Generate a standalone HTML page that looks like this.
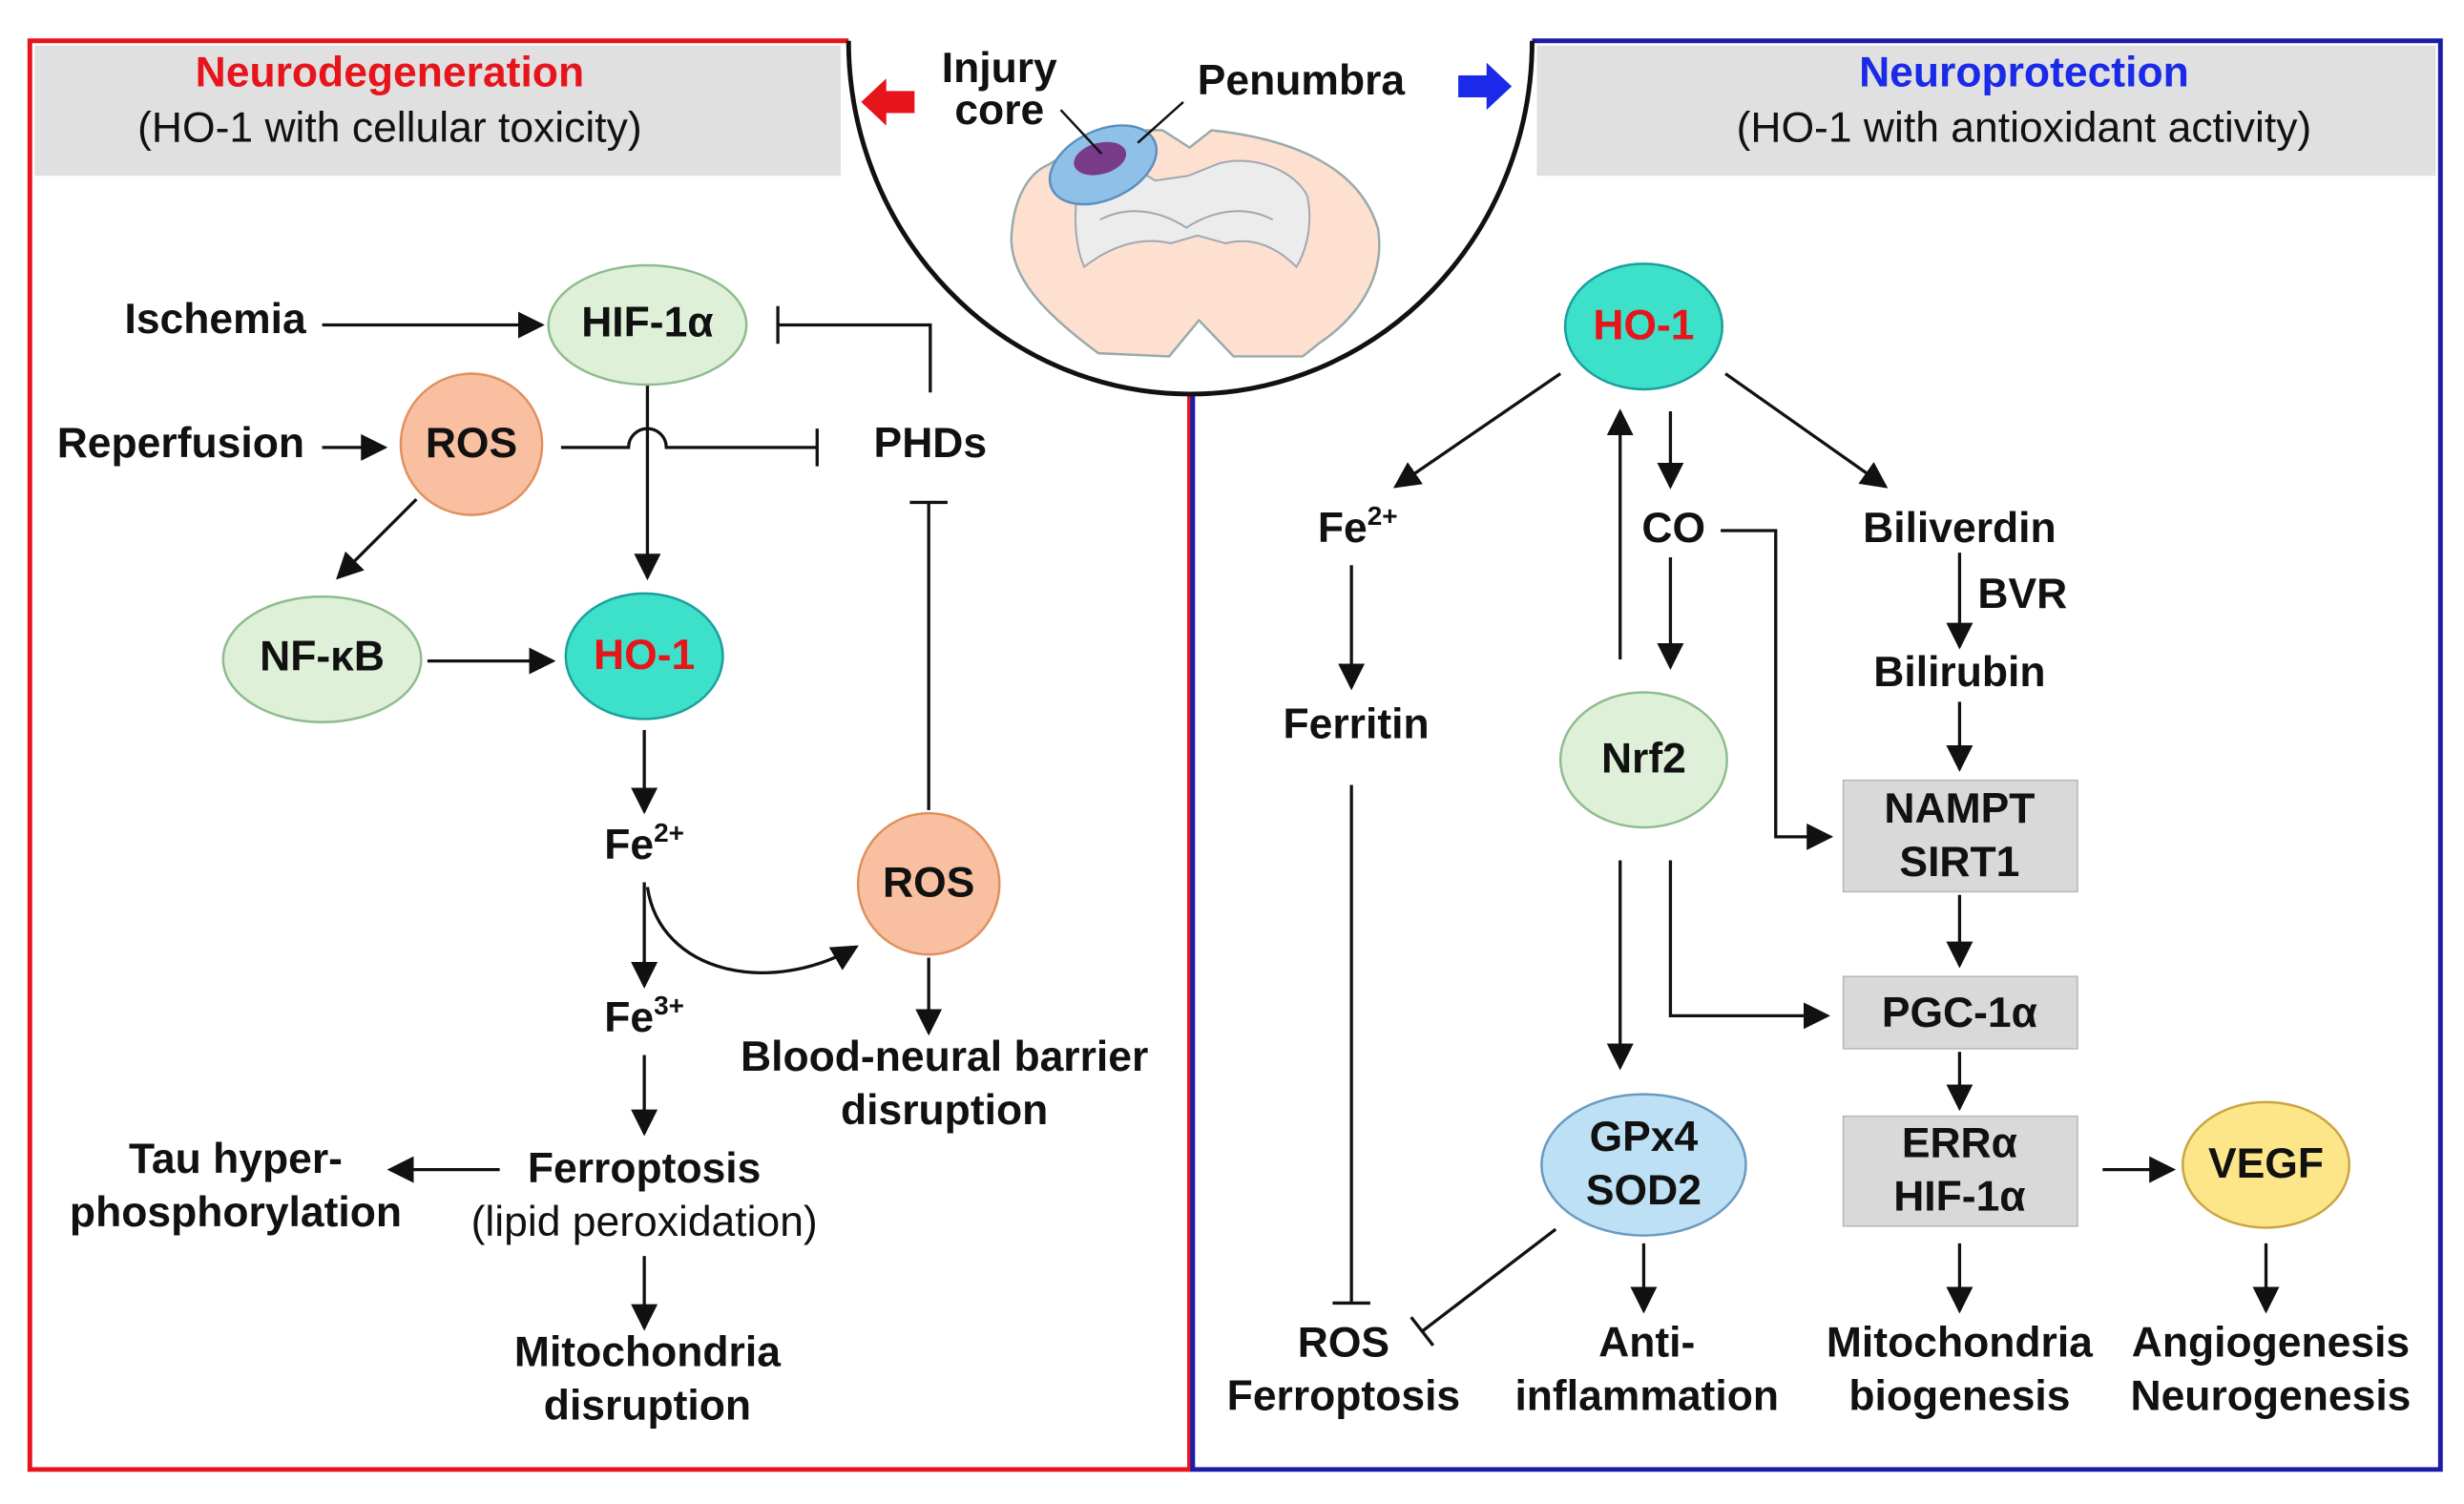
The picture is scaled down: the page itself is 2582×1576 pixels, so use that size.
<!DOCTYPE html>
<html><head><meta charset="utf-8"><style>
html,body{margin:0;padding:0;background:#fff}
svg{display:block}
text{font-family:"Liberation Sans",Arial,sans-serif;font-weight:bold;font-size:27px;text-anchor:middle;dominant-baseline:middle;fill:#111}
.n{font-weight:normal}
</style></head><body>
<svg width="2582" height="1576" viewBox="0 0 1568 958" preserveAspectRatio="none" xmlns="http://www.w3.org/2000/svg">
<defs>
<marker id="a2" viewBox="0 0 10 10" markerWidth="17" markerHeight="17" refX="9" refY="5" orient="auto" markerUnits="userSpaceOnUse"><path d="M0,0 L10,5 L0,10 z" fill="#111"/></marker>
</defs>
<!-- frames -->
<path d="M540,26 L19,26 L19,936 L757,936 L757,250" fill="none" stroke="#e8141c" stroke-width="3"/>
<path d="M975,26 L1553,26 L1553,936 L759,936 L759,250" fill="none" stroke="#1c1ca8" stroke-width="3"/>
<path d="M540,26 A217.5,225 0 0 0 975,26" fill="none" stroke="#111" stroke-width="3"/>
<rect x="22" y="29" width="513" height="83" fill="#e0e0e0"/>
<rect x="978" y="29" width="572" height="83" fill="#e0e0e0"/>
<text x="248" y="48" style="fill:#e8141c">Neurodegeneration</text>
<text x="248" y="83" class="n">(HO-1 with cellular toxicity)</text>
<text x="1288" y="48" style="fill:#1a2ae8">Neuroprotection</text>
<text x="1288" y="83" class="n">(HO-1 with antioxidant activity)</text>
<path d="M548,65 L564,50 L564,58 L582,58 L582,72 L564,72 L564,80 z" fill="#e8141c"/>
<path d="M962,55 L946,40 L946,48 L928,48 L928,62 L946,62 L946,70 z" fill="#1a2ae8"/>
<!-- brain -->
<path d="M757,94 L771,83 C820,88 865,105 877,146 C882,180 860,205 839,219 L829,227 L785,227 L763,204 L744,227 L699,225 C665,200 640,175 644,146 C646,125 655,110 667,105 C690,90 715,82 740,83 z" fill="#fde0d0" stroke="#9aa" stroke-width="1.5"/>
<path d="M690,110 C705,100 720,105 735,115 L756,112 L776,104 C800,98 825,110 832,125 C836,145 830,162 825,170 C815,160 800,150 780,155 L762,150 L745,155 C725,150 705,158 690,170 C683,155 682,125 690,110 z" fill="#ececec" stroke="#a0a8b0" stroke-width="1.2"/>
<path d="M700,140 C715,132 735,132 755,145 C775,132 795,132 810,140" fill="none" stroke="#a0a8b0" stroke-width="1.2"/>
<ellipse cx="702" cy="105" rx="36" ry="22" transform="rotate(-25 702 105)" fill="#8fc0e8" stroke="#5a8fc0" stroke-width="1.5"/>
<ellipse cx="700" cy="101" rx="17" ry="10" transform="rotate(-15 700 101)" fill="#7a3a8a"/>
<text x="636" y="45">Injury</text><text x="636" y="72">core</text>
<text x="828" y="53">Penumbra</text>
<line x1="675" y1="70" x2="701" y2="98" stroke="#111" stroke-width="1.5"/>
<line x1="753" y1="65" x2="724" y2="91" stroke="#111" stroke-width="1.5"/>
<g stroke="#111" stroke-width="2" fill="none">
<!-- left -->
<line x1="205" y1="207" x2="345" y2="207" marker-end="url(#a2)"/>
<path d="M592,250 L592,207 L495,207 M495,195 L495,219"/>
<line x1="205" y1="285" x2="245" y2="285" marker-end="url(#a2)"/>
<path d="M357,285 L400,285 A12,12 0 0 1 424,285 L520,285 M520,273 L520,297"/>
<line x1="412" y1="245" x2="412" y2="368" marker-end="url(#a2)"/>
<line x1="265" y1="318" x2="215" y2="368" marker-end="url(#a2)"/>
<line x1="272" y1="421" x2="352" y2="421" marker-end="url(#a2)"/>
<line x1="410" y1="465" x2="410" y2="517" marker-end="url(#a2)"/>
<line x1="410" y1="562" x2="410" y2="628" marker-end="url(#a2)"/>
<path d="M412,565 C420,620 490,635 545,603" marker-end="url(#a2)"/>
<path d="M591,516 L591,320 M579,320 L603,320"/>
<line x1="591" y1="610" x2="591" y2="658" marker-end="url(#a2)"/>
<line x1="410" y1="672" x2="410" y2="722" marker-end="url(#a2)"/>
<line x1="318" y1="745" x2="248" y2="745" marker-end="url(#a2)"/>
<line x1="410" y1="800" x2="410" y2="846" marker-end="url(#a2)"/>
<!-- right -->
<line x1="993" y1="238" x2="888" y2="310" marker-end="url(#a2)"/>
<line x1="860" y1="360" x2="860" y2="438" marker-end="url(#a2)"/>
<path d="M860,500 L860,830 M848,830 L872,830"/>
<line x1="1031" y1="420" x2="1031" y2="262" marker-end="url(#a2)"/>
<line x1="1063" y1="262" x2="1063" y2="310" marker-end="url(#a2)"/>
<line x1="1063" y1="355" x2="1063" y2="425" marker-end="url(#a2)"/>
<line x1="1098" y1="238" x2="1200" y2="310" marker-end="url(#a2)"/>
<line x1="1247" y1="352" x2="1247" y2="412" marker-end="url(#a2)"/>
<line x1="1247" y1="447" x2="1247" y2="490" marker-end="url(#a2)"/>
<path d="M1095,338 L1130,338 L1130,533 L1165,533" marker-end="url(#a2)"/>
<line x1="1247" y1="570" x2="1247" y2="615" marker-end="url(#a2)"/>
<path d="M1063,548 L1063,647 L1163,647" marker-end="url(#a2)"/>
<line x1="1247" y1="670" x2="1247" y2="706" marker-end="url(#a2)"/>
<line x1="1338" y1="745" x2="1383" y2="745" marker-end="url(#a2)"/>
<line x1="1442" y1="792" x2="1442" y2="835" marker-end="url(#a2)"/>
<line x1="1247" y1="792" x2="1247" y2="835" marker-end="url(#a2)"/>
<line x1="1031" y1="548" x2="1031" y2="680" marker-end="url(#a2)"/>
<path d="M990,783 L905,848 M898,839 L912,857"/>
<line x1="1046" y1="792" x2="1046" y2="835" marker-end="url(#a2)"/>
</g>
<!-- nodes -->
<ellipse cx="412" cy="207" rx="63" ry="38" fill="#dff0d8" stroke="#8fbc8f" stroke-width="1.5"/>
<circle cx="300" cy="283" r="45" fill="#f8c0a0" stroke="#e0905e" stroke-width="1.5"/>
<ellipse cx="205" cy="420" rx="63" ry="40" fill="#dff0d8" stroke="#8fbc8f" stroke-width="1.5"/>
<ellipse cx="410" cy="418" rx="50" ry="40" fill="#3de0c8" stroke="#1a9f9f" stroke-width="1.5"/>
<circle cx="591" cy="563" r="45" fill="#f8c0a0" stroke="#e0905e" stroke-width="1.5"/>
<ellipse cx="1046" cy="208" rx="50" ry="40" fill="#3de0c8" stroke="#1a9f9f" stroke-width="1.5"/>
<ellipse cx="1046" cy="484" rx="53" ry="43" fill="#dff0d8" stroke="#8fbc8f" stroke-width="1.5"/>
<rect x="1173" y="497" width="149" height="71" fill="#d9d9d9" stroke="#bbb"/>
<rect x="1173" y="622" width="149" height="46" fill="#d9d9d9" stroke="#bbb"/>
<rect x="1173" y="711" width="149" height="70" fill="#d9d9d9" stroke="#bbb"/>
<ellipse cx="1442" cy="742" rx="53" ry="40" fill="#fde68a" stroke="#c9a640" stroke-width="1.5"/>
<ellipse cx="1046" cy="742" rx="65" ry="45" fill="#bde0f5" stroke="#6a9ac0" stroke-width="1.5"/>
<!-- labels -->
<text x="137" y="205">Ischemia</text>
<text x="412" y="207">HIF-1α</text>
<text x="115" y="284">Reperfusion</text>
<text x="300" y="284">ROS</text>
<text x="592" y="284">PHDs</text>
<text x="205" y="420">NF-κB</text>
<text x="410" y="419" style="fill:#e8141c">HO-1</text>
<text x="410" y="540">Fe<tspan dy="-8" font-size="17">2+</tspan></text>
<text x="591" y="564">ROS</text>
<text x="410" y="650">Fe<tspan dy="-8" font-size="17">3+</tspan></text>
<text x="601" y="675">Blood-neural barrier</text>
<text x="601" y="709">disruption</text>
<text x="410" y="746">Ferroptosis</text>
<text x="410" y="780" class="n">(lipid peroxidation)</text>
<text x="150" y="740">Tau hyper-</text>
<text x="150" y="774">phosphorylation</text>
<text x="412" y="863">Mitochondria</text>
<text x="412" y="897">disruption</text>
<text x="1046" y="209" style="fill:#e8141c">HO-1</text>
<text x="864" y="338">Fe<tspan dy="-8" font-size="17">2+</tspan></text>
<text x="1065" y="338">CO</text>
<text x="1247" y="338">Biliverdin</text>
<text x="1287" y="380">BVR</text>
<text x="1247" y="430">Bilirubin</text>
<text x="863" y="463">Ferritin</text>
<text x="1046" y="485">Nrf2</text>
<text x="1247" y="517">NAMPT</text>
<text x="1247" y="551">SIRT1</text>
<text x="1247" y="647">PGC-1α</text>
<text x="1247" y="730">ERRα</text>
<text x="1247" y="764">HIF-1α</text>
<text x="1046" y="726">GPx4</text>
<text x="1046" y="760">SOD2</text>
<text x="1442" y="743">VEGF</text>
<text x="855" y="857">ROS</text>
<text x="855" y="891">Ferroptosis</text>
<text x="1048" y="857">Anti-</text>
<text x="1048" y="891">inflammation</text>
<text x="1247" y="857">Mitochondria</text>
<text x="1247" y="891">biogenesis</text>
<text x="1445" y="857">Angiogenesis</text>
<text x="1445" y="891">Neurogenesis</text>
</svg>
</body></html>
